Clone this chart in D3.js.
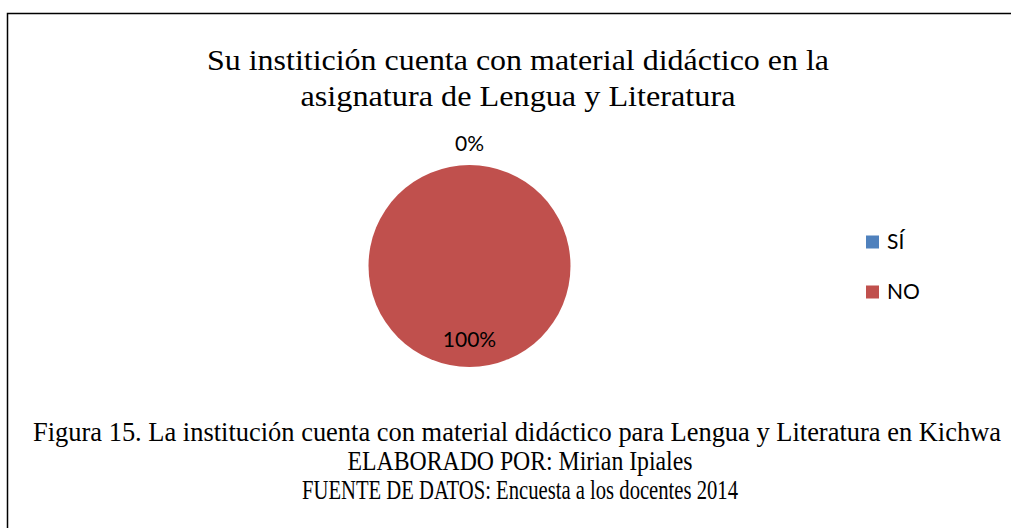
<!DOCTYPE html>
<html><head><meta charset="utf-8">
<script src="https://cdn.jsdelivr.net/npm/d3@7"></script>
<style>body{margin:0;background:#fff;}svg{display:block;}</style>
</head><body>
<svg id="chart" width="1011" height="528"></svg>
<script>
const categories = ["SÍ", "NO"];
const values = [0, 100];
const colors = ["#4F81BD", "#C0504D"];
const titleLines = ["Su institición cuenta con material didáctico en la", "asignatura de Lengua y Literatura"];
const titleWidths = [622, 435];
const captionLines = ["Figura 15. La institución cuenta con material didáctico para Lengua y Literatura en Kichwa", "ELABORADO POR: Mirian Ipiales", "FUENTE DE DATOS: Encuesta a los docentes 2014"];
const captionWidths = [968, 345, 436];

const serif = "'Liberation Serif', 'Times New Roman', serif";
const sans = "Lato, Carlito, Calibri, sans-serif";

const svg = d3.select("#chart");
svg.append("rect").attr("x", 7.5).attr("y", 13.5).attr("width", 1100).attr("height", 600)
  .attr("fill", "#fff").attr("stroke", "#000").attr("stroke-width", 1.5);

titleLines.forEach((t, i) => svg.append("text").style("font-family", serif)
  .style("font-size", "29px").attr("text-anchor", "middle").attr("fill", "#000")
  .attr("x", 518).attr("y", 70 + i * 35.5)
  .attr("textLength", titleWidths[i]).attr("lengthAdjust", "spacingAndGlyphs").text(t));

const cx = 469.5, cy = 266, r = 101;
const total = d3.sum(values);
const pie = d3.pie().sort(null).value(d => d)(values);
const arc = d3.arc().innerRadius(0).outerRadius(r);
const g = svg.append("g").attr("transform", `translate(${cx},${cy})`);
g.selectAll("path").data(pie).join("path").attr("d", arc).attr("fill", (d, i) => colors[i]);

const fmt = v => Math.round(v / total * 100) + "%";
g.selectAll("text").data(pie).join("text")
  .style("font-family", sans).style("font-size", "21px")
  .attr("text-anchor", "middle").attr("fill", "#000")
  .attr("transform", d => {
    const a = (d.startAngle + d.endAngle) / 2;
    const rr = (d.endAngle - d.startAngle) < 0.01 ? r + 21 : r * 0.73;
    return `translate(${rr * Math.sin(a)},${-rr * Math.cos(a)})`;
  })
  .attr("dy", "0.35em")
  .text(d => fmt(d.data));

const legend = svg.append("g");
categories.forEach((c, i) => {
  const y = 242 + i * 50;
  legend.append("rect").attr("x", 866).attr("y", y - 6.5).attr("width", 13).attr("height", 13).attr("fill", colors[i]);
  legend.append("text").attr("x", 887).attr("y", y).attr("dy", "0.35em")
    .style("font-family", sans).style("font-size", "21px").attr("fill", "#000").text(c);
});

captionLines.forEach((t, i) => svg.append("text").style("font-family", serif)
  .style("font-size", "27px").attr("text-anchor", "middle").attr("fill", "#000")
  .attr("x", i === 0 ? 517 : 520).attr("y", 441 + i * 29)
  .attr("textLength", captionWidths[i]).attr("lengthAdjust", "spacingAndGlyphs").text(t));
</script>
</body></html>
